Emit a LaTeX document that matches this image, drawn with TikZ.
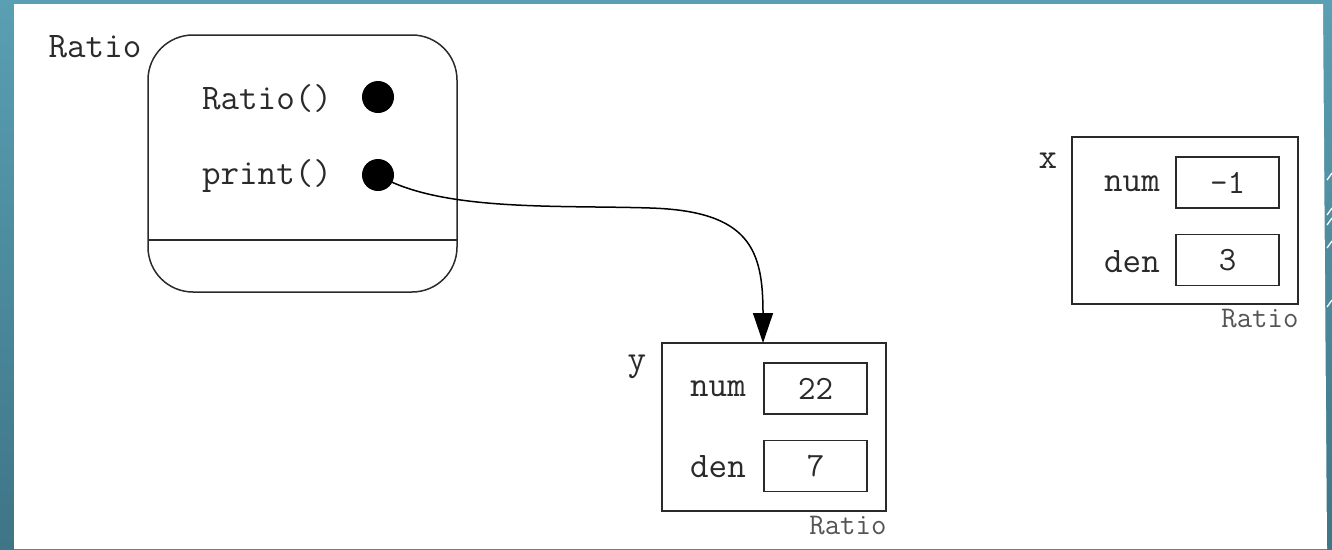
\documentclass[tikz,border=0pt]{standalone}
\usepackage{tikz}
\usetikzlibrary{positioning,calc,arrows.meta}

\definecolor{slidetop}{HTML}{5A9FB3}
\definecolor{slidebot}{HTML}{3E7587}
\definecolor{inkgray}{HTML}{2A2A2A}

\begin{document}
\begin{tikzpicture}[x=1pt,y=-1pt]
            \tikzset{
                txt/.style={
                    inner sep=0pt,
                    text=inkgray,
                    font=\ttfamily\fontsize{36}{40}\selectfont
                }
            }
            \tikzset{
                small/.style={
                    inner sep=0pt,
                    text=inkgray!80,
                    font=\ttfamily\fontsize{30}{34}\selectfont
                }
            }
            \tikzset{
                obj/.style={
                    draw=inkgray,
                    line width=1.5pt,
                    inner sep=0pt
                }
            }
            \tikzset{
                slot/.style={
                    obj,
                    minimum width=103pt,
                    minimum height=51pt,
                    font=\ttfamily\fontsize{34}{38}\selectfont,
                    text=inkgray
                }
            }
            \tikzset{
                dot/.style={
                    circle,
                    fill=black,
                    inner sep=0pt,
                    minimum size=32pt
                }
            }
            \tikzset{
                conn/.style={
                    draw=black,
                    line width=1.5pt,
                    -{Triangle[length=30pt,width=20pt]}
                }
            }

            \useasboundingbox (0,0) rectangle (1332,549);
            % slide background
            \shade[top color=slidetop,bottom color=slidebot] (0,0) rectangle (1332,549);
            \fill[white] (14,4) -- (1323,4) -- (1327,549) -- (14,549) -- cycle;
            \foreach \yy in {180,215,225,248,307}
                \draw[white,line width=1.3pt] (1327,\yy) -- (1332,\yy-7);

            % the class
            \node[obj,rounded corners=45pt,minimum width=309pt,minimum height=257pt] (cls) at (302.5,163.5) {};
            \draw[inkgray,line width=1.5pt] (148,240) -- (457,240);
            \node[txt] (clsname) at (95,47) {Ratio};
            \node[txt] (ctor) at (267,98) {Ratio()};
            \node[txt] (prnt) at (267,176) {print()};
            \node[dot] (cdot) at (378,97) {};
            \node[dot] (pdot) at (378,175) {};

            % object y
            \node[obj,minimum width=224pt,minimum height=168pt] (ybox) at (774,427) {};
            \node[txt] (yname) at (637,367) {y};
            \node[slot] (ynum) at (815.5,388.5) {22};
            \node[slot] (yden) at (815.5,466) {7};
            \node[txt] (ynumlbl) at (718,389) {num};
            \node[txt] (ydenlbl) at (718,467) {den};
            \node[small,anchor=north east] (ytype) at ([yshift=-4pt]ybox.south east) {Ratio};
            \coordinate (yin) at (763,343);

            % object x
            \node[obj,minimum width=226pt,minimum height=167pt] (xbox) at (1185,220.5) {};
            \node[txt] (xname) at (1048,161) {x};
            \node[slot] (xnum) at (1227.5,182.5) {-1};
            \node[slot] (xden) at (1227.5,260) {3};
            \node[txt] (xnumlbl) at (1132,184) {num};
            \node[txt] (xdenlbl) at (1132,262) {den};
            \node[small,anchor=north east] (xtype) at ([yshift=-4pt]xbox.south east) {Ratio};

            \draw[conn] (pdot.center) .. controls (440,212) and (560,205) .. (650,208)
                .. controls (750,211) and (763,250) .. (yin);
\end{tikzpicture}
\end{document}
